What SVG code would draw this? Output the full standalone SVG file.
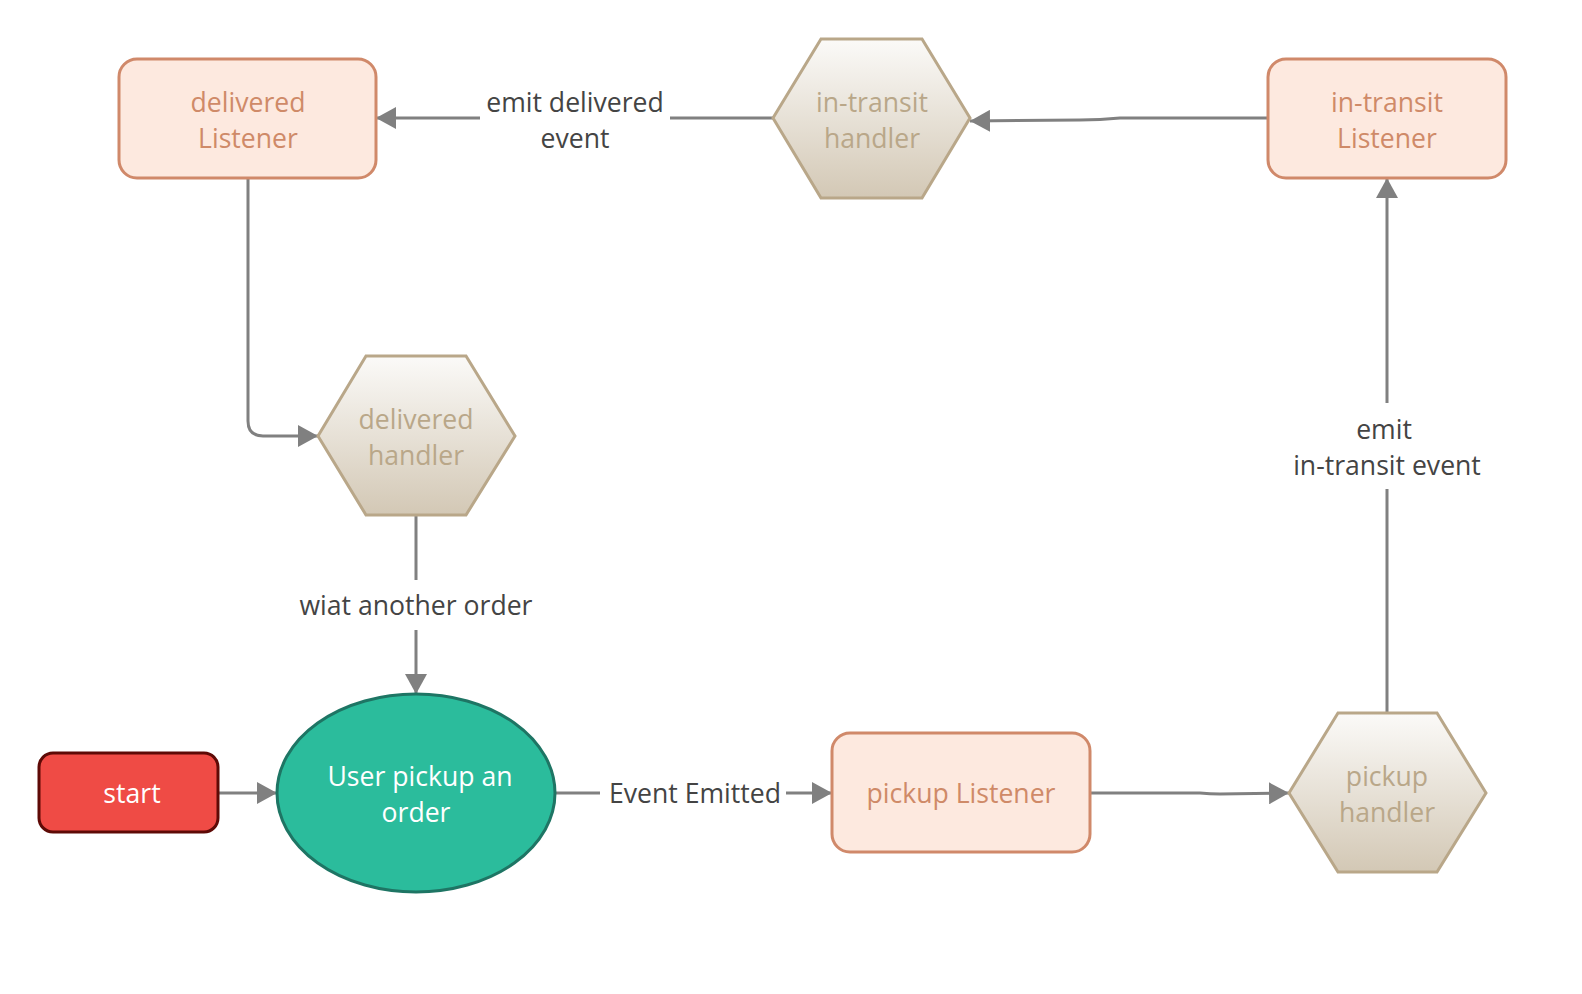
<svg xmlns="http://www.w3.org/2000/svg" width="1582" height="994" viewBox="0 0 1582 994">
<style>
.lst{fill:#FDE9DF;stroke:#D0896A;stroke-width:3}
.lst-t{fill:#CF8A68;font-family:"Open Sans","Liberation Sans",sans-serif;font-size:26.6px;text-anchor:middle}
.hex{fill:url(#hg);stroke:#B9A789;stroke-width:3}
.hex-t{fill:#B9A789;font-family:"Open Sans","Liberation Sans",sans-serif;font-size:26.6px;text-anchor:middle}
.lbl{fill:#444444;font-family:"Open Sans","Liberation Sans",sans-serif;font-size:26.6px;text-anchor:middle}
.wt{fill:#FFFFFF;font-family:"Open Sans","Liberation Sans",sans-serif;font-size:26.6px;text-anchor:middle}
.con{fill:none;stroke:#808080;stroke-width:3;marker-end:url(#arr)}
</style>
<defs>
<linearGradient id="hg" x1="0" y1="0" x2="0" y2="1">
<stop offset="0" stop-color="#FBFAF8"/>
<stop offset="1" stop-color="#D3C8B5"/>
</linearGradient>
<marker id="arr" viewBox="0 0 20 22" refX="20" refY="11" markerWidth="20" markerHeight="22" orient="auto" markerUnits="userSpaceOnUse">
<path d="M0,0 L20,11 L0,22 z" fill="#808080"/>
</marker>
</defs>
<rect width="1582" height="994" fill="#FFFFFF"/>
<g id="connectors">
<path class="con" d="M218,793 L277,793"/>
<path class="con" d="M555,793 L600,793 M786,793 L832,793"/>
<path class="con" d="M1090,793 L1200,793 Q1210,794 1220,794 L1289,793"/>
<path class="con" d="M1387,713 L1387,489 M1387,403 L1387,178"/>
<path class="con" d="M1268,118 L1120,118 Q1100,120 1080,120 L970,121"/>
<path class="con" d="M773,118 L670,118 M480,118 L376,118"/>
<path class="con" d="M248,178 L248,421 Q248,436 263,436 L318,436"/>
<path class="con" d="M416,515 L416,580 M416,630 L416,694"/>
<text class="lbl" x="575" y="112">emit delivered</text>
<text class="lbl" x="575" y="148">event</text>
<text class="lbl" x="695" y="803">Event Emitted</text>
<text class="lbl" x="1384" y="439">emit</text>
<text class="lbl" x="1387" y="475">in-transit event</text>
<text class="lbl" x="416" y="615">wiat another order</text>
</g>
<g id="start">
<rect x="39" y="753" width="179" height="79" rx="14" fill="#EF4B45" stroke="#5E0A06" stroke-width="3"/>
<text class="wt" x="132" y="803">start</text>
</g>
<g id="user-pickup">
<ellipse cx="416" cy="793" rx="139" ry="99" fill="#2BBC9C" stroke="#1E7564" stroke-width="3"/>
<text class="wt" x="420" y="786">User pickup an</text>
<text class="wt" x="416" y="822">order</text>
</g>
<g id="pickup-listener">
<rect class="lst" x="832" y="733" width="258" height="119" rx="18"/>
<text class="lst-t" x="961" y="803">pickup Listener</text>
</g>
<g id="pickup-handler">
<polygon class="hex" points="1289,793 1338,713 1437,713 1486,793 1437,872 1338,872"/>
<text class="hex-t" x="1387" y="786">pickup</text>
<text class="hex-t" x="1387" y="822">handler</text>
</g>
<g id="intransit-listener">
<rect class="lst" x="1268" y="59" width="238" height="119" rx="18"/>
<text class="lst-t" x="1387" y="112">in-transit</text>
<text class="lst-t" x="1387" y="148">Listener</text>
</g>
<g id="intransit-handler">
<polygon class="hex" points="773,118 821,39 922,39 970,118 922,198 821,198"/>
<text class="hex-t" x="872" y="112">in-transit</text>
<text class="hex-t" x="872" y="148">handler</text>
</g>
<g id="delivered-listener">
<rect class="lst" x="119" y="59" width="257" height="119" rx="18"/>
<text class="lst-t" x="248" y="112">delivered</text>
<text class="lst-t" x="248" y="148">Listener</text>
</g>
<g id="delivered-handler">
<polygon class="hex" points="318,436 366,356 466,356 515,436 466,515 366,515"/>
<text class="hex-t" x="416" y="429">delivered</text>
<text class="hex-t" x="416" y="465">handler</text>
</g>
</svg>
